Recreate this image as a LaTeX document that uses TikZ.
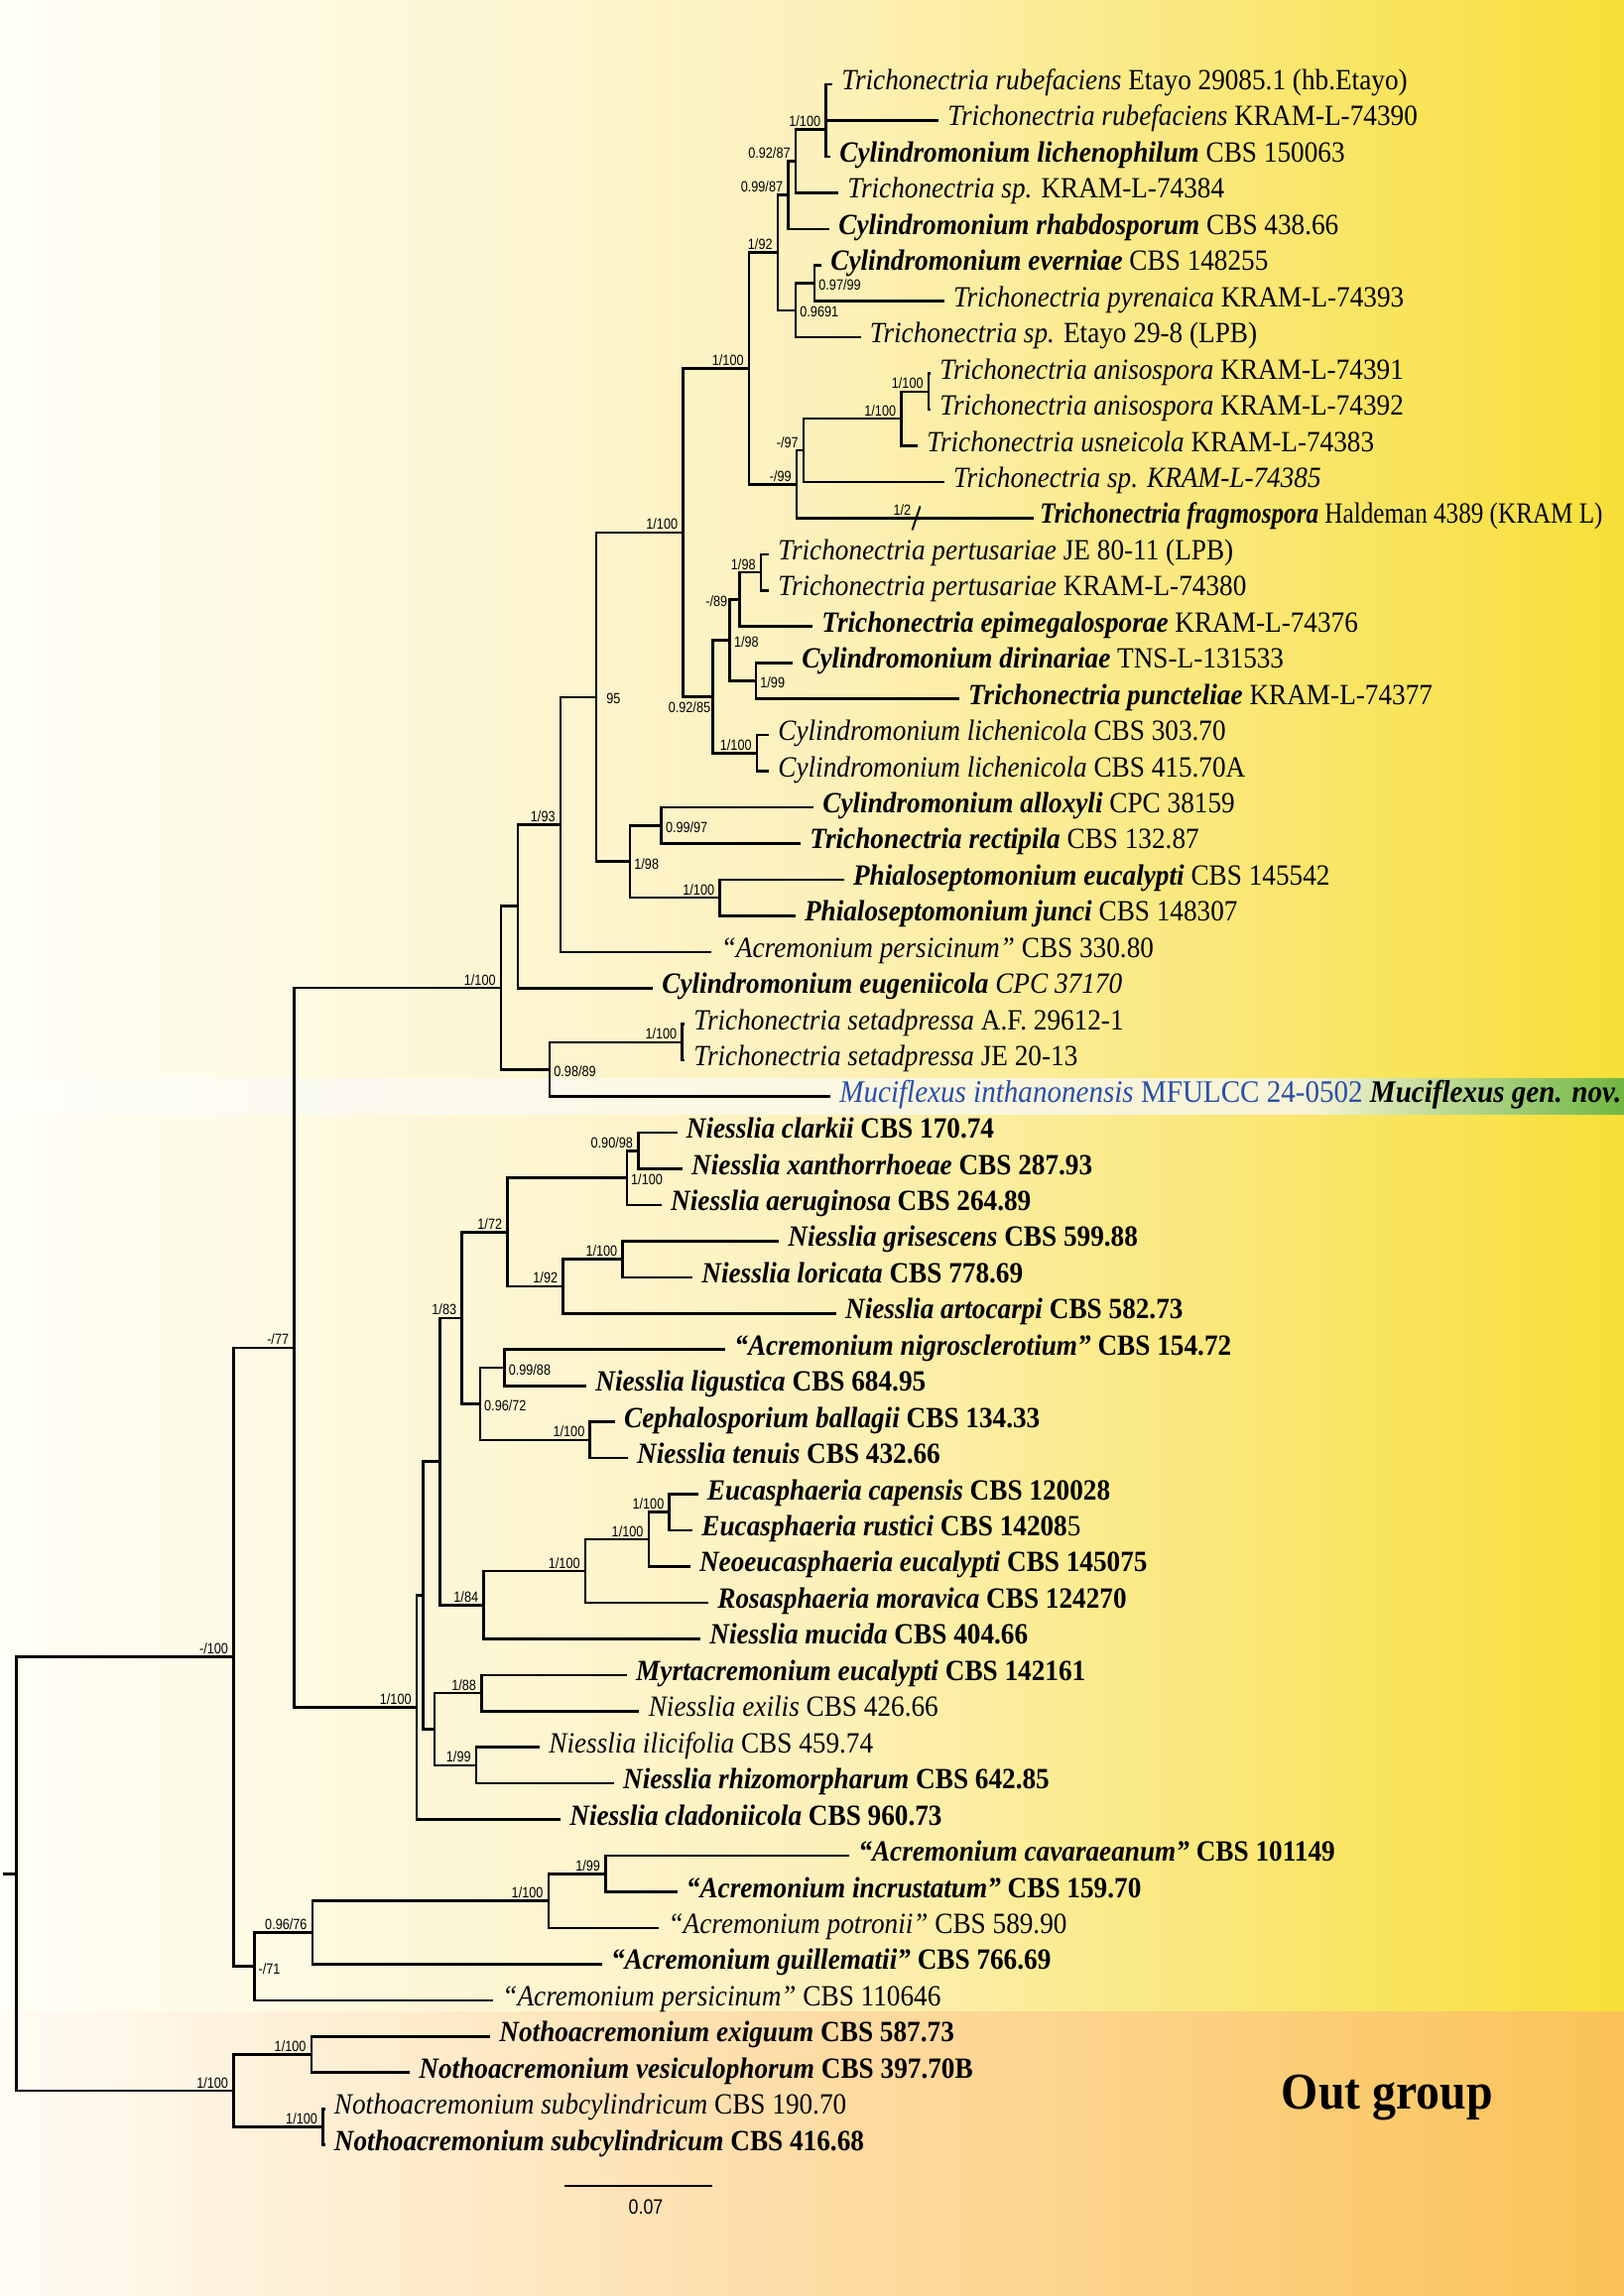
\documentclass[tikz,border=0pt]{standalone}
\usepackage{fontspec}
\setmainfont[FakeStretch=0.92]{Liberation Serif}
\newfontfamily\narrowserif[FakeStretch=0.85]{Liberation Serif}
\newfontfamily\supfont[FakeStretch=0.85]{Liberation Sans}
\usetikzlibrary{calc}
\definecolor{bgA}{HTML}{FFFEF7}
\definecolor{bgB}{HTML}{FCF1BC}
\definecolor{bgC}{HTML}{F8DF38}
\definecolor{ogA}{HTML}{FFFCF4}
\definecolor{ogB}{HTML}{FDDCA5}
\definecolor{ogC}{HTML}{FBC357}
\definecolor{bandA}{HTML}{FEFDF8}
\definecolor{bandB}{HTML}{F7F3D5}
\definecolor{bandC}{HTML}{70B743}
\definecolor{mublue}{RGB}{40,78,170}
\newcommand\txbi[1]{\textbf{\textit{#1}}}
\newcommand\txb[1]{\textbf{#1}}
\newcommand\txi[1]{\textit{#1}}
\begin{document}
\begin{tikzpicture}[x=0.5pt,y=-0.5pt,
  br/.style={line width=1.3pt},
  tx/.style={anchor=base west, inner sep=0pt, xshift=4.5pt, yshift=-2.75pt, font=\fontsize{14.8}{17}\selectfont},
  sup/.style={inner sep=0pt, font=\supfont\fontsize{7.45}{8}\selectfont},
  sl/.style={sup, anchor=base east, xshift=-2.5pt, yshift=1.5pt},
  sr/.style={sup, anchor=west, xshift=2pt, yshift=-1pt}]
\useasboundingbox (0,0) rectangle (1637,2315);
% backgrounds
\shade[left color=bgA, right color=bgB] (0,0) rectangle (821,2028);
\shade[left color=bgB, right color=bgC] (820,0) rectangle (1637,2028);
\shade[left color=ogA, right color=ogB] (0,2028) rectangle (821,2315);
\shade[left color=ogB, right color=ogC] (820,2028) rectangle (1637,2315);
\shade[left color=bandA, right color=bandB] (0,1087) rectangle (1321,1123);
\shade[left color=bandB, right color=bandC] (1320,1087) rectangle (1637,1123);
% tips
\coordinate (t1) at (839,85);
\coordinate (t2) at (946,121.45);
\coordinate (t3) at (837,157.9);
\coordinate (t4) at (845,194.35);
\coordinate (t5) at (836,230.8);
\coordinate (t6) at (828,267.25);
\coordinate (t7) at (951.6,303.7);
\coordinate (t8) at (867.5,340.15);
\coordinate (t9) at (938,376.6);
\coordinate (t10) at (938,413.05);
\coordinate (t11) at (925,449.5);
\coordinate (t12) at (951.6,485.95);
\coordinate (t13) at (1042,522.4);
\coordinate (t14) at (775,558.85);
\coordinate (t15) at (775,595.3);
\coordinate (t16) at (819,631.75);
\coordinate (t17) at (799,668.2);
\coordinate (t18) at (966.7,704.65);
\coordinate (t19) at (775,741.1);
\coordinate (t20) at (775,777.55);
\coordinate (t21) at (820,814);
\coordinate (t22) at (807,850.45);
\coordinate (t23) at (850.7,886.9);
\coordinate (t24) at (801.6,923.35);
\coordinate (t25) at (717.4,959.8);
\coordinate (t26) at (658,996.25);
\coordinate (t27) at (690,1032.7);
\coordinate (t28) at (690,1069.15);
\coordinate (t29) at (837,1105.6);
\coordinate (t30) at (682.5,1142.05);
\coordinate (t31) at (687.8,1178.5);
\coordinate (t32) at (666.8,1214.95);
\coordinate (t33) at (785,1251.4);
\coordinate (t34) at (698,1287.85);
\coordinate (t35) at (842.7,1324.3);
\coordinate (t36) at (731,1360.75);
\coordinate (t37) at (591,1397.2);
\coordinate (t38) at (619.8,1433.65);
\coordinate (t39) at (632.8,1470.1);
\coordinate (t40) at (703.5,1506.55);
\coordinate (t41) at (698,1543);
\coordinate (t42) at (695.6,1579.45);
\coordinate (t43) at (714,1615.9);
\coordinate (t44) at (706,1652.35);
\coordinate (t45) at (631.8,1688.8);
\coordinate (t46) at (644.4,1725.25);
\coordinate (t47) at (544,1761.7);
\coordinate (t48) at (618.7,1798.15);
\coordinate (t49) at (565,1834.6);
\coordinate (t50) at (856,1871.05);
\coordinate (t51) at (682.5,1907.5);
\coordinate (t52) at (664.2,1943.95);
\coordinate (t53) at (606.7,1980.4);
\coordinate (t54) at (497,2016.85);
\coordinate (t55) at (494,2053.3);
\coordinate (t56) at (413,2089.75);
\coordinate (t57) at (327.5,2126.2);
\coordinate (t58) at (327.5,2162.65);
% internal nodes
\coordinate (nr12) at (832.5,103.225);
\coordinate (nrub) at (832.5,130.56);
\coordinate (n092) at (802,162.455);
\coordinate (n099) at (794.5,196.63);
\coordinate (n9799) at (821,285.475);
\coordinate (n9691) at (802,312.81);
\coordinate (n192) at (784,254.72);
\coordinate (nani) at (936,394.825);
\coordinate (nusn) at (908.5,422.16);
\coordinate (n97) at (810,454.055);
\coordinate (n99) at (803,488.23);
\coordinate (nA) at (755,371.475);
\coordinate (npert) at (767,577.075);
\coordinate (n89) at (745.5,604.41);
\coordinate (ndir) at (762,686.425);
\coordinate (n198a) at (735.7,645.42);
\coordinate (nlich) at (763,759.325);
\coordinate (nB) at (718.5,702.37);
\coordinate (nAB) at (688.5,536.92);
\coordinate (nallox) at (666.6,832.225);
\coordinate (nphial) at (725.5,905.125);
\coordinate (nC) at (635,868.675);
\coordinate (n95) at (601,702.8);
\coordinate (n193) at (565,831.3);
\coordinate (neug) at (522,913.775);
\coordinate (nseta) at (687.6,1050.925);
\coordinate (n098) at (554,1078.26);
\coordinate (nD) at (505,996.02);
\coordinate (n090) at (643.3,1160.275);
\coordinate (n1100a) at (631.8,1187.61);
\coordinate (ngrl) at (627.6,1269.625);
\coordinate (n192b) at (567.5,1296.96);
\coordinate (n172) at (511.5,1242.285);
\coordinate (n088) at (508.4,1378.975);
\coordinate (nceph) at (594.7,1451.875);
\coordinate (n096) at (483.8,1415.425);
\coordinate (n183) at (465.5,1328.855);
\coordinate (neuc) at (674.7,1524.775);
\coordinate (nneo) at (653.8,1552.11);
\coordinate (nros) at (590,1584.005);
\coordinate (n184) at (487.5,1618.18);
\coordinate (nE) at (443.5,1473.52);
\coordinate (n188) at (485.4,1707.025);
\coordinate (n199) at (480,1779.925);
\coordinate (nF) at (437.8,1743.475);
\coordinate (nG) at (426.3,1608.5);
\coordinate (nN) at (420,1721.55);
\coordinate (n77) at (296.5,1358.785);
\coordinate (n199b) at (610.4,1889.275);
\coordinate (n1100b) at (552.8,1916.61);
\coordinate (n096b) at (314.9,1948.505);
\coordinate (n71) at (256.3,1982.68);
\coordinate (n100) at (235.4,1670.73);
\coordinate (no1) at (313.8,2071.525);
\coordinate (no2) at (325.3,2144.425);
\coordinate (nO) at (235.4,2107.975);
\coordinate (root) at (16.7,1889.35);
\coordinate (rootstub) at (2.6,1889.35);
\coordinate (brk) at (923.5,522.4);
% branches
\foreach \p/\c in {nr12/t1, nr12/t2, nrub/nr12, nrub/t3, n092/nrub, n092/t4, n099/n092, n099/t5,
  n9799/t6, n9799/t7, n9691/n9799, n9691/t8, n192/n099, n192/n9691, nani/t9, nani/t10,
  nusn/nani, nusn/t11, n97/nusn, n97/t12, n99/n97, n99/t13, nA/n192, nA/n99,
  npert/t14, npert/t15, n89/npert, n89/t16, ndir/t17, ndir/t18, n198a/n89, n198a/ndir,
  nlich/t19, nlich/t20, nB/n198a, nB/nlich, nAB/nA, nAB/nB,
  nallox/t21, nallox/t22, nphial/t23, nphial/t24, nC/nallox, nC/nphial, n95/nAB, n95/nC,
  n193/n95, n193/t25, neug/n193, neug/t26, nseta/t27, nseta/t28, n098/nseta, n098/t29,
  nD/neug, nD/n098,
  n090/t30, n090/t31, n1100a/n090, n1100a/t32, ngrl/t33, ngrl/t34, n192b/ngrl, n192b/t35,
  n172/n1100a, n172/n192b, n088/t36, n088/t37, nceph/t38, nceph/t39, n096/n088, n096/nceph,
  n183/n172, n183/n096, neuc/t40, neuc/t41, nneo/neuc, nneo/t42, nros/nneo, nros/t43,
  n184/nros, n184/t44, nE/n183, nE/n184, n188/t45, n188/t46, n199/t47, n199/t48,
  nF/n188, nF/n199, nG/nE, nG/nF, nN/nG, nN/t49, n77/nD, n77/nN,
  n199b/t50, n199b/t51, n1100b/n199b, n1100b/t52, n096b/n1100b, n096b/t53, n71/n096b, n71/t54,
  n100/n77, n100/n71, no1/t55, no1/t56, no2/t57, no2/t58, nO/no1, nO/no2, root/n100, root/nO}
  \draw[br] (\p) |- (\c);
\draw[br] (rootstub) -- (root);
\draw[line width=1pt] ($(brk)+(-4,12)$) -- ($(brk)+(4,-12)$);
% support values (left, above stem)
\node[sl] (s-nrub) at (nrub) {1/100};
\node[sl] (s-n092) at (n092) {0.92/87};
\node[sl] (s-n099) at (n099) {0.99/87};
\node[sl] (s-n192) at (n192) {1/92};
\node[sl] (s-nA) at (nA) {1/100};
\node[sl] (s-nani) at (nani) {1/100};
\node[sl] (s-nusn) at (nusn) {1/100};
\node[sl] (s-n97) at (n97) {-/97};
\node[sl] (s-n99) at (n99) {-/99};
\node[sl] (s-brk) at (brk) {1/2};
\node[sl] (s-nAB) at (nAB) {1/100};
\node[sl] (s-npert) at (npert) {1/98};
\node[sl] (s-nlich) at (nlich) {1/100};
\node[sl] (s-nphial) at (nphial) {1/100};
\node[sl] (s-n193) at (n193) {1/93};
\node[sl] (s-nD) at (nD) {1/100};
\node[sl] (s-nseta) at (nseta) {1/100};
\node[sl] (s-n090) at (n090) {0.90/98};
\node[sl] (s-n172) at (n172) {1/72};
\node[sl] (s-ngrl) at (ngrl) {1/100};
\node[sl] (s-n192b) at (n192b) {1/92};
\node[sl] (s-n183) at (n183) {1/83};
\node[sl] (s-nceph) at (nceph) {1/100};
\node[sl] (s-neuc) at (neuc) {1/100};
\node[sl] (s-nneo) at (nneo) {1/100};
\node[sl] (s-nros) at (nros) {1/100};
\node[sl] (s-n184) at (n184) {1/84};
\node[sl] (s-n77) at (n77) {-/77};
\node[sl] (s-nN) at (nN) {1/100};
\node[sl] (s-n100) at (n100) {-/100};
\node[sl] (s-n188) at (n188) {1/88};
\node[sl] (s-n199) at (n199) {1/99};
\node[sl] (s-n096b) at (n096b) {0.96/76};
\node[sl] (s-n1100b) at (n1100b) {1/100};
\node[sl] (s-n199b) at (n199b) {1/99};
\node[sl] (s-no1) at (no1) {1/100};
\node[sl] (s-nO) at (nO) {1/100};
\node[sl] (s-no2) at (no2) {1/100};
% support values (right of node)
\node[sr] (s-n9799) at (n9799) {0.97/99};
\node[sr] (s-n9691) at (n9691) {0.9691};
\node[sr] (s-n198a) at (n198a) {1/98};
\node[sr] (s-ndir) at (ndir) {1/99};
\node[sr, xshift=3pt] (s-n95) at (n95) {95};
\node[sr] (s-nallox) at (nallox) {0.99/97};
\node[sr] (s-nC) at (nC) {1/98};
\node[sr] (s-n098) at (n098) {0.98/89};
\node[sr] (s-n1100a) at (n1100a) {1/100};
\node[sr] (s-n088) at (n088) {0.99/88};
\node[sr] (s-n096) at (n096) {0.96/72};
\node[sr] (s-n71) at (n71) {-/71};
% special
\node[sup, anchor=east, xshift=-6pt, yshift=-1pt] (s-n89) at (n89) {-/89};
\node[sup, anchor=north east, xshift=-1pt, yshift=-2.5pt] (s-nB) at (nB) {0.92/85};
% taxon labels
\node[tx] (L1) at (t1) {\txi{Trichonectria rubefaciens} Etayo 29085.1 (hb.Etayo)};
\node[tx] (L2) at (t2) {\txi{Trichonectria rubefaciens} KRAM-L-74390};
\node[tx] (L3) at (t3) {\txbi{Cylindromonium lichenophilum} CBS 150063};
\node[tx] (L4) at (t4) {\txi{Trichonectria sp.} KRAM-L-74384};
\node[tx] (L5) at (t5) {\txbi{Cylindromonium rhabdosporum} CBS 438.66};
\node[tx] (L6) at (t6) {\txbi{Cylindromonium everniae} CBS 148255};
\node[tx] (L7) at (t7) {\txi{Trichonectria pyrenaica} KRAM-L-74393};
\node[tx] (L8) at (t8) {\txi{Trichonectria sp.} Etayo 29-8 (LPB)};
\node[tx] (L9) at (t9) {\txi{Trichonectria anisospora} KRAM-L-74391};
\node[tx] (L10) at (t10) {\txi{Trichonectria anisospora} KRAM-L-74392};
\node[tx] (L11) at (t11) {\txi{Trichonectria usneicola} KRAM-L-74383};
\node[tx] (L12) at (t12) {\txi{Trichonectria sp. KRAM-L-74385}};
\node[tx, xshift=-1.5pt, font=\narrowserif\fontsize{14.8}{17}\selectfont] (L13) at (t13) {\txbi{Trichonectria fragmospora} Haldeman 4389 (KRAM L)};
\node[tx] (L14) at (t14) {\txi{Trichonectria pertusariae} JE 80-11 (LPB)};
\node[tx] (L15) at (t15) {\txi{Trichonectria pertusariae} KRAM-L-74380};
\node[tx] (L16) at (t16) {\txbi{Trichonectria epimegalosporae} KRAM-L-74376};
\node[tx] (L17) at (t17) {\txbi{Cylindromonium dirinariae} TNS-L-131533};
\node[tx] (L18) at (t18) {\txbi{Trichonectria puncteliae} KRAM-L-74377};
\node[tx] (L19) at (t19) {\txi{Cylindromonium lichenicola} CBS 303.70};
\node[tx] (L20) at (t20) {\txi{Cylindromonium lichenicola} CBS 415.70A};
\node[tx] (L21) at (t21) {\txbi{Cylindromonium alloxyli} CPC 38159};
\node[tx] (L22) at (t22) {\txbi{Trichonectria rectipila} CBS 132.87};
\node[tx] (L23) at (t23) {\txbi{Phialoseptomonium eucalypti} CBS 145542};
\node[tx] (L24) at (t24) {\txbi{Phialoseptomonium junci} CBS 148307};
\node[tx] (L25) at (t25) {\txi{“Acremonium persicinum”} CBS 330.80};
\node[tx] (L26) at (t26) {\txbi{Cylindromonium eugeniicola} \txi{CPC 37170}};
\node[tx] (L27) at (t27) {\txi{Trichonectria setadpressa} A.F. 29612-1};
\node[tx] (L28) at (t28) {\txi{Trichonectria setadpressa} JE 20-13};
\node[tx, font=\fontsize{15.8}{18}\selectfont] (L29) at (t29) {\textcolor{mublue}{\txi{Muciflexus inthanonensis} MFULCC 24-0502} \txbi{Muciflexus gen. nov.}};
\node[tx] (L30) at (t30) {\txbi{Niesslia clarkii} \txb{CBS 170.74}};
\node[tx] (L31) at (t31) {\txbi{Niesslia xanthorrhoeae} \txb{CBS 287.93}};
\node[tx] (L32) at (t32) {\txbi{Niesslia aeruginosa} \txb{CBS 264.89}};
\node[tx] (L33) at (t33) {\txbi{Niesslia grisescens} \txb{CBS 599.88}};
\node[tx] (L34) at (t34) {\txbi{Niesslia loricata} \txb{CBS 778.69}};
\node[tx] (L35) at (t35) {\txbi{Niesslia artocarpi} \txb{CBS 582.73}};
\node[tx] (L36) at (t36) {\txbi{“Acremonium nigrosclerotium”} \txb{CBS 154.72}};
\node[tx] (L37) at (t37) {\txbi{Niesslia ligustica} \txb{CBS 684.95}};
\node[tx] (L38) at (t38) {\txbi{Cephalosporium ballagii} \txb{CBS 134.33}};
\node[tx] (L39) at (t39) {\txbi{Niesslia tenuis} \txb{CBS 432.66}};
\node[tx] (L40) at (t40) {\txbi{Eucasphaeria capensis} \txb{CBS 120028}};
\node[tx] (L41) at (t41) {\txbi{Eucasphaeria rustici} \txb{CBS 14208}5};
\node[tx] (L42) at (t42) {\txbi{Neoeucasphaeria eucalypti} \txb{CBS 145075}};
\node[tx] (L43) at (t43) {\txbi{Rosasphaeria moravica} \txb{CBS 124270}};
\node[tx] (L44) at (t44) {\txbi{Niesslia mucida} \txb{CBS 404.66}};
\node[tx] (L45) at (t45) {\txbi{Myrtacremonium eucalypti} \txb{CBS 142161}};
\node[tx] (L46) at (t46) {\txi{Niesslia exilis} CBS 426.66};
\node[tx] (L47) at (t47) {\txi{Niesslia ilicifolia} CBS 459.74};
\node[tx] (L48) at (t48) {\txbi{Niesslia rhizomorpharum} \txb{CBS 642.85}};
\node[tx] (L49) at (t49) {\txbi{Niesslia cladoniicola} \txb{CBS 960.73}};
\node[tx] (L50) at (t50) {\txbi{“Acremonium cavaraeanum”} \txb{CBS 101149}};
\node[tx] (L51) at (t51) {\txbi{“Acremonium incrustatum”} \txb{CBS 159.70}};
\node[tx] (L52) at (t52) {\txi{“Acremonium potronii”} CBS 589.90};
\node[tx] (L53) at (t53) {\txbi{“Acremonium guillematii”} \txb{CBS 766.69}};
\node[tx] (L54) at (t54) {\txi{“Acremonium persicinum”} CBS 110646};
\node[tx] (L55) at (t55) {\txbi{Nothoacremonium exiguum} \txb{CBS 587.73}};
\node[tx] (L56) at (t56) {\txbi{Nothoacremonium vesiculophorum} \txb{CBS 397.70B}};
\node[tx] (L57) at (t57) {\txi{Nothoacremonium subcylindricum} CBS 190.70};
\node[tx] (L58) at (t58) {\txbi{Nothoacremonium subcylindricum} \txb{CBS 416.68}};
% outgroup title
\node[anchor=base, inner sep=0pt, font=\fontsize{26}{30}\selectfont\bfseries] (og) at (1398.5,2126.5) {Out group};
% scale bar
\coordinate (sb1) at (569,2204);
\coordinate (sb2) at (717.6,2204);
\draw[br] (sb1) -- (sb2);
\node[sup, font=\supfont\fontsize{10.5}{12}\selectfont] (sbl) at (651,2225.5) {0.07};
\end{tikzpicture}
\end{document}
